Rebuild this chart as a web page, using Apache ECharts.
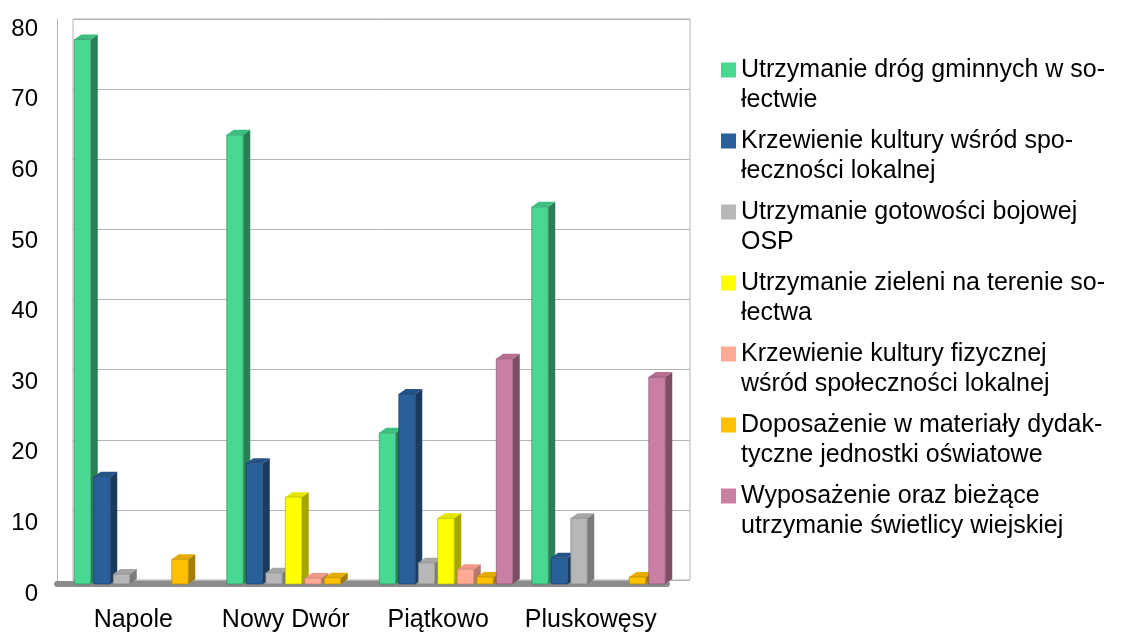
<!DOCTYPE html>
<html>
<head>
<meta charset="utf-8">
<title>Sołectwa</title>
<script src="https://cdn.jsdelivr.net/npm/echarts@6/dist/echarts.min.js"></script>
<style>
    html, body { margin: 0; padding: 0; background: #fff; }
    #main { width: 1126px; height: 637px; }
</style>
</head>
<body>
<div id="main"></div>
<script>
    // dane
    var categories = ['Napole', 'Nowy Dwór', 'Piątkowo', 'Pluskowęsy'];
    var yTicks = [0, 10, 20, 30, 40, 50, 60, 70, 80];
    var names = [
        'Utrzymanie dróg gminnych w so-\nłectwie',
        'Krzewienie kultury wśród spo-\nłeczności lokalnej',
        'Utrzymanie gotowości bojowej\nOSP',
        'Utrzymanie zieleni na terenie so-\nłectwa',
        'Krzewienie kultury fizycznej\nwśród społeczności lokalnej',
        'Doposażenie w materiały dydak-\ntyczne jednostki oświatowe',
        'Wyposażenie oraz bieżące\nutrzymanie świetlicy wiejskiej'
    ];
    var drogi     = [77.1, 63.6, 21.4, 53.4];
    var kultura   = [15.2, 17.1, 26.9, 3.7];
    var osp       = [1.4, 1.6, 3.0, 9.3];
    var zielen    = [0, 12.3, 9.3, 0];
    var sport     = [0, 0.85, 2.1, 0];
    var oswiata   = [3.5, 0.9, 1.0, 1.0];
    var swietlica = [0, 0, 31.9, 29.3];

    var values = [drogi, kultura, osp, zielen, sport, oswiata, swietlica];
    var colors = ['#48d891', '#2a6099', '#b7b7b7', '#ffff00', '#ffaa95', '#ffc000', '#c97ea4'];
    var sides  = ['#2a7f56', '#1a3a5e', '#7a7a7a', '#a6a600', '#b5786a', '#a67c00', '#7d4e66'];
    var tops   = ['#3cc07f', '#24538a', '#a5a5a5', '#e6e600', '#f09a86', '#e6ad00', '#b66f93'];

    var FONT = 'Liberation Sans';

    // słupek "3D" – przód, bok i góra
    function bar3d(si) {
        return function (params, api) {
            var v = api.value(1);
            if (!v) return;
            var c = api.value(0);
            var base = api.coord([c, 0]);
            var top = api.coord([c, v]);
            var w = 16.5, dx = 7, dy = 5;
            var x = base[0] - 59 + si * 19.5;
            var y0 = base[1], y1 = top[1];
            return {
                type: 'group',
                children: [
                    {
                        type: 'polygon',
                        shape: { points: [[x + w, y1], [x + w + dx, y1 - dy], [x + w + dx, y0 - dy], [x + w, y0]] },
                        style: { fill: sides[si] }
                    },
                    {
                        type: 'polygon',
                        shape: { points: [[x, y1], [x + dx, y1 - dy], [x + w + dx, y1 - dy], [x + w, y1]] },
                        style: { fill: tops[si] }
                    },
                    {
                        type: 'rect',
                        shape: { x: x, y: y1, width: w, height: y0 - y1 },
                        style: { fill: colors[si], stroke: sides[si], lineWidth: 0.6 }
                    }
                ]
            };
        };
    }

    var series = [];
    for (var i = 0; i < values.length; i++) {
        series.push({
            type: 'custom',
            name: names[i],
            xAxisIndex: 0,
            yAxisIndex: 0,
            itemStyle: { color: colors[i] },
            renderItem: bar3d(i),
            data: values[i].map(function (v, k) { return [k, v]; })
        });
    }

    var myChart = echarts.init(document.getElementById('main'));
    var option = {
        animation: false,
        backgroundColor: '#fff',
        color: colors,
        grid: [
            // przód (słupki i podpisy)
            { left: 57, right: 459, top: 19, bottom: 53 },
            // tylna ściana
            { left: 73, right: 436, top: 19, bottom: 57, show: true, borderColor: '#b3b3b3', borderWidth: 1 }
        ],
        xAxis: [
            {
                type: 'category', gridIndex: 0, data: categories,
                axisLine: { lineStyle: { color: '#8c8c8c', width: 6 } },
                axisTick: { show: false },
                axisLabel: { color: '#000', fontFamily: FONT, fontSize: 25, margin: 24, interval: 0 }
            },
            { type: 'category', gridIndex: 1, data: categories, show: false }
        ],
        yAxis: [
            {
                type: 'value', gridIndex: 0, min: 0, max: 80, interval: 10,
                axisLine: { show: true, lineStyle: { color: '#b3b3b3' } },
                axisTick: { show: false },
                splitLine: { show: false },
                axisLabel: {
                    color: '#000', fontFamily: FONT, fontSize: 24, margin: 19,
                    verticalAlign: 'top', lineHeight: 20,
                    formatter: function (v) { return yTicks.indexOf(v) >= 0 ? String(v) : ''; }
                }
            },
            {
                type: 'value', gridIndex: 1, min: 0, max: 80, interval: 10,
                axisLine: { show: false }, axisTick: { show: false }, axisLabel: { show: false },
                splitLine: { lineStyle: { color: '#b3b3b3', width: 1 } }
            }
        ],
        legend: {
            orient: 'vertical',
            left: 716,
            top: 50,
            // kwadrat na wysokości pierwszej linii tekstu
            icon: 'path://M0,0L15,0L15,15L0,15Z M0,44L0.01,45',
            itemWidth: 15,
            itemHeight: 45,
            itemGap: 11,
            selectedMode: false,
            textStyle: {
                color: '#000', fontFamily: FONT, fontSize: 25, lineHeight: 30
            },
            data: names
        },
        series: series
    };
    myChart.setOption(option);
</script>
</body>
</html>
